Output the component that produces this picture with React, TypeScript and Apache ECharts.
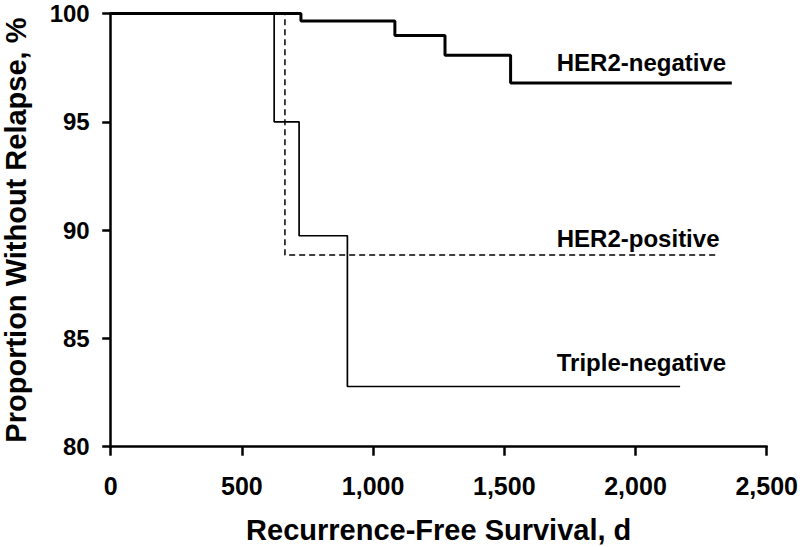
import React, { useEffect, useRef } from "react";
import * as echarts from "echarts";

// Kaplan-Meier step data (days, % without relapse)
const her2NegTimes = [0, 725, 1083, 1274, 1524, 2367];
const her2NegValues = [100, 99.65, 98.99, 98.07, 96.79, 96.79];

const her2PosTimes = [0, 664, 2309];
const her2PosValues = [100, 88.85, 88.85];

const tripleNegTimes = [0, 623, 718, 902, 2170];
const tripleNegValues = [100, 95.0, 89.74, 82.78, 82.78];

const seriesNames = ["HER2-negative", "HER2-positive", "Triple-negative"];
// label anchors in data coordinates [x, y]
const labelAnchors = [
  [1700, 97.72],
  [1700, 89.6],
  [1700, 83.9],
];

const xTicks = { min: 0, max: 2500, interval: 500 };
const yTicks = { min: 80, max: 100, interval: 5 };

const FONT = "Liberation Sans, Arial, Helvetica, sans-serif";

function zip(xs: number[], ys: number[]) {
  return xs.map((x, i) => [x, ys[i]]);
}

export default function App() {
  const ref = useRef<HTMLDivElement>(null);
  useEffect(() => {
    if (!ref.current) return;
    const chart = echarts.init(ref.current, null, { renderer: "svg" });
    const lineSeries = [
      { name: seriesNames[0], data: zip(her2NegTimes, her2NegValues), width: 3, type: "solid" },
      { name: seriesNames[1], data: zip(her2PosTimes, her2PosValues), width: 1.5, type: [6, 4] },
      { name: seriesNames[2], data: zip(tripleNegTimes, tripleNegValues), width: 1.7, type: "solid" },
    ].map((s) => ({
      type: "line",
      name: s.name,
      step: "end",
      data: s.data,
      showSymbol: false,
      symbol: "none",
      silent: true,
      lineStyle: { color: "#000", width: s.width, type: s.type },
    }));
    const labelSeries = seriesNames.map((n, i) => ({
      type: "scatter",
      name: n + "-label",
      data: [labelAnchors[i]],
      symbolSize: 0,
      silent: true,
      itemStyle: { opacity: 1, color: "#000" },
      label: {
        show: true,
        position: "right",
        distance: 0,
        formatter: n,
        color: "#000",
        opacity: 1,
        fontFamily: FONT,
        fontWeight: "bold",
        fontSize: 24,
      },
    }));
    chart.setOption({
      animation: false,
      backgroundColor: "#fff",
      grid: {
        left: 110.7,
        right: 33.3,
        top: 13.5,
        bottom: 100.3,
        containLabel: false,
        outerBoundsMode: "none",
      },
      xAxis: {
        type: "value",
        min: xTicks.min,
        max: xTicks.max,
        interval: xTicks.interval,
        name: "Recurrence-Free Survival, d",
        nameLocation: "middle",
        nameGap: 69,
        nameTextStyle: { fontFamily: FONT, fontWeight: "bold", fontSize: 29, color: "#000" },
        axisLine: { show: true, onZero: false, lineStyle: { color: "#000", width: 2.5 } },
        axisTick: { show: true, inside: false, length: 9, lineStyle: { color: "#000", width: 2.5 } },
        axisLabel: {
          margin: 27,
          fontFamily: FONT,
          fontWeight: "bold",
          fontSize: 25,
          color: "#000",
          formatter: (v: number) => v.toLocaleString("en-US"),
        },
        splitLine: { show: false },
      },
      yAxis: {
        type: "value",
        min: yTicks.min,
        max: yTicks.max,
        interval: yTicks.interval,
        name: "Proportion Without Relapse, %",
        nameLocation: "middle",
        nameGap: 80,
        nameTextStyle: { fontFamily: FONT, fontWeight: "bold", fontSize: 29, color: "#000", lineHeight: 29 },
        axisLine: { show: true, onZero: false, lineStyle: { color: "#000", width: 2.5 } },
        axisTick: { show: true, inside: false, length: 8.5, lineStyle: { color: "#000", width: 2.5 } },
        axisLabel: {
          margin: 21,
          fontFamily: FONT,
          fontWeight: "bold",
          fontSize: 24,
          lineHeight: 20,
          color: "#000",
        },
        splitLine: { show: false },
      },
      series: [...lineSeries, ...labelSeries],
    });
    return () => chart.dispose();
  }, []);
  return (
    <div
      ref={ref}
      style={{ position: "absolute", left: 0, top: 0, width: 800, height: 547, background: "#fff" }}
    />
  );
}
